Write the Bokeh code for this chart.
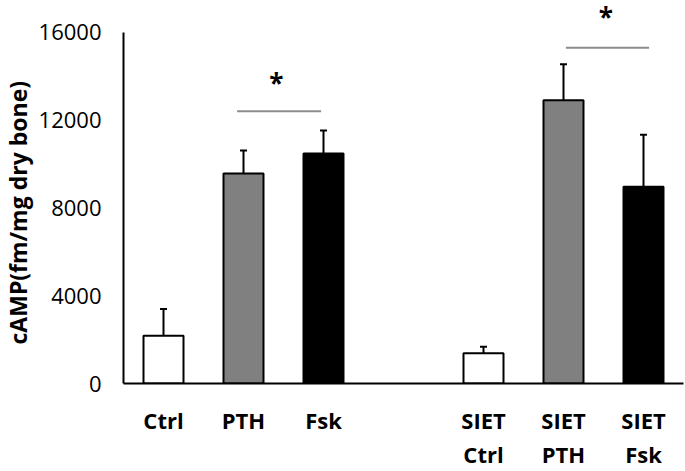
from bokeh.plotting import figure
from bokeh.models import LinearAxis, FixedTicker, Range1d, Whisker, TeeHead, ColumnDataSource, Title
from bokeh.core.properties import value
from bokeh.embed import file_html
from bokeh.resources import INLINE

# ---- data ----
groups = ["Ctrl", "PTH", "Fsk", "SIET Ctrl", "SIET PTH", "SIET Fsk"]
positions = [0, 1, 2, 4, 5, 6]
means = [2180, 9570, 10480, 1380, 12900, 8960]
errors = [1220, 1050, 1050, 290, 1650, 2370]
fills = ["white", "#808080", "black", "white", "#808080", "black"]
label_row1 = ["Ctrl", "PTH", "Fsk", "SIET", "SIET", "SIET"]
label_row2 = ["", "", "", "Ctrl", "PTH", "Fsk"]
y_ticks = [0, 4000, 8000, 12000, 16000]
y_title = "cAMP(fm/mg dry bone)"
sig_x0 = [0.92, 5.03]
sig_x1 = [1.97, 6.07]
sig_y = [12400, 15300]
star_x = [1.41, 5.53]
star_y = [13700, 16700]
star_text = ["*", "*"]

FONT = "Open Sans"

p = figure(width=685, height=471, x_range=Range1d(-0.5, 6.5), y_range=Range1d(0, 17450),
           output_backend="svg", toolbar_location=None,
           x_axis_type=None, y_axis_type=None,
           min_border_left=123, min_border_right=2, min_border_top=0, min_border_bottom=87)
p.grid.visible = False
p.outline_line_color = None
p.background_fill_color = "white"

src = ColumnDataSource(dict(x=positions, top=means, fill=fills,
                            upper=[m + e for m, e in zip(means, errors)]))

p.vbar(x="x", top="top", width=0.5, fill_color="fill", line_color="black",
       line_width=2, source=src)

wh = Whisker(base="x", lower="top", upper="upper", source=src, line_color="black",
             line_width=2, lower_head=None,
             upper_head=TeeHead(size=7, line_width=2, line_color="black"))
p.add_layout(wh)

p.segment(x0=sig_x0, y0=sig_y, x1=sig_x1, y1=sig_y, line_color="#8c8c8c", line_width=2)
p.text(x=star_x, y=star_y, text=star_text, text_font=value(FONT), text_font_style="bold",
       text_font_size="26px", text_align="center", text_baseline="alphabetic",
       text_color="black")

yax = LinearAxis(ticker=FixedTicker(ticks=y_ticks), bounds=(0, 16000),
                 major_label_text_font=FONT, major_label_text_font_size="22px",
                 major_label_text_color="black", major_label_standoff=16,
                 major_tick_line_color=None, minor_tick_line_color=None,
                 axis_line_width=2, axis_line_color="black")
p.add_layout(yax, "left")

p.add_layout(Title(text=y_title, align="left", offset=39, standoff=0, vertical_align="top",
                   text_font=FONT, text_font_style="bold", text_font_size="23px",
                   text_color="black"), "left")

xax1 = LinearAxis(ticker=FixedTicker(ticks=positions),
                  major_label_overrides={pos: lab for pos, lab in zip(positions, label_row1)},
                  major_label_text_font=FONT, major_label_text_font_style="bold",
                  major_label_text_font_size="22px", major_label_text_color="black",
                  major_label_standoff=15,
                  major_tick_line_color=None, minor_tick_line_color=None,
                  axis_line_width=2, axis_line_color="black")
p.add_layout(xax1, "below")

xax2 = LinearAxis(ticker=FixedTicker(ticks=positions),
                  major_label_overrides={pos: lab for pos, lab in zip(positions, label_row2)},
                  major_label_text_font=FONT, major_label_text_font_style="bold",
                  major_label_text_font_size="22px", major_label_text_color="black",
                  major_label_standoff=-5,
                  major_tick_line_color=None, minor_tick_line_color=None,
                  axis_line_color=None)
p.add_layout(xax2, "below")

open("out.html", "w").write(file_html(p, INLINE))
